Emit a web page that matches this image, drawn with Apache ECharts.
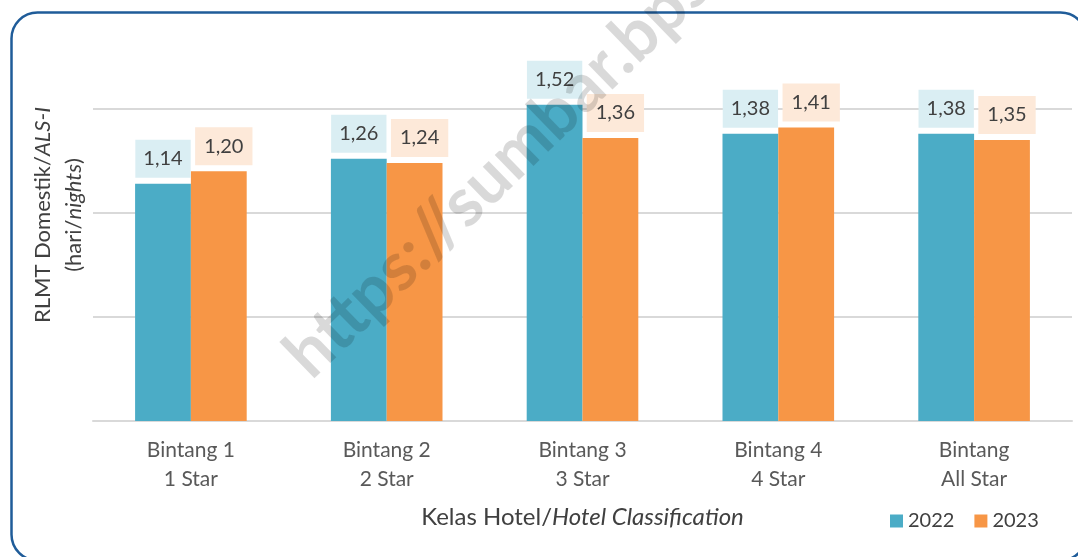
<!DOCTYPE html>
<html>
<head>
<meta charset="utf-8">
<script src="https://cdn.jsdelivr.net/npm/echarts@6/dist/echarts.min.js"></script>
<style>
  html, body { margin: 0; padding: 0; background: #fff; }
  #main { width: 1078px; height: 557px; }
</style>
</head>
<body>
<div id="main"></div>
<script>
var categories = ['Bintang 1\n1 Star', 'Bintang 2\n2 Star', 'Bintang 3\n3 Star', 'Bintang 4\n4 Star', 'Bintang\nAll Star'];
var values2022 = [1.14, 1.26, 1.52, 1.38, 1.38];
var values2023 = [1.20, 1.24, 1.36, 1.41, 1.35];

var chartDom = document.getElementById('main');
var myChart = echarts.init(chartDom);
var font = 'Lato, "Noto Sans", sans-serif';

function fmt(p) {
    return p.value.toFixed(2).replace('.', ',');
}

var option = {
    textStyle: { fontFamily: font },
    animation: false,
    grid: { left: 93, right: 6, top: 88, bottom: 136 },
    legend: {
        left: 885,
        top: 506,
        itemWidth: 13,
        itemHeight: 13,
        itemGap: 20,
        icon: 'rect',
        textStyle: { fontSize: 20, color: '#404040', fontFamily: font },
        data: ['2022', '2023']
    },
    xAxis: {
        type: 'category',
        data: categories,
        name: '{a|Kelas Hotel/}{i|Hotel Classification}',
        nameLocation: 'middle',
        nameGap: 82,
        nameTextStyle: {
            rich: {
                a: { fontSize: 24, color: '#404040', fontFamily: font, lineHeight: 28 },
                i: { fontSize: 24, color: '#404040', fontFamily: font, fontStyle: 'italic', lineHeight: 28 }
            }
        },
        axisLine: { lineStyle: { color: '#D9D9D9', width: 2 } },
        axisTick: { show: false },
        axisLabel: { fontSize: 21, color: '#595959', lineHeight: 29, margin: 15, fontFamily: font }
    },
    yAxis: {
        type: 'value',
        min: 0,
        max: 1.6,
        interval: 0.5,
        axisLabel: { show: false },
        axisLine: { show: false },
        axisTick: { show: false },
        splitLine: { showMaxLine: false, showMinLine: false, lineStyle: { color: '#D9D9D9', width: 2 } }
    },
    series: [
        {
            name: '2022',
            type: 'bar',
            data: values2022,
            barGap: '0%',
            barCategoryGap: '43%',
            itemStyle: { color: '#4BACC6' },
            label: {
                show: true,
                position: 'top',
                distance: 6,
                formatter: fmt,
                fontSize: 20,
                color: '#404040',
                fontFamily: font,
                backgroundColor: '#DAEEF3',
                padding: [7, 8, 7, 8],
                lineHeight: 24
            }
        },
        {
            name: '2023',
            type: 'bar',
            data: values2023,
            itemStyle: { color: '#F79646' },
            label: {
                show: true,
                position: 'top',
                distance: 6,
                offset: [5, 0],
                formatter: fmt,
                fontSize: 20,
                color: '#404040',
                fontFamily: font,
                backgroundColor: '#FDE9D9',
                padding: [7, 9, 7, 9],
                lineHeight: 24
            }
        }
    ],
    graphic: [
        {
            type: 'text',
            x: 58,
            y: 215,
            rotation: Math.PI / 2,
            style: {
                text: '{a|RLMT Domestik/}{i|ALS-I}\n{a|(hari/}{i|nights}{a|)}',
                align: 'center',
                verticalAlign: 'middle',
                rich: {
                    a: { fontSize: 22, fill: '#404040', fontFamily: font, lineHeight: 31 },
                    i: { fontSize: 22, fill: '#404040', fontFamily: font, fontStyle: 'italic', lineHeight: 31 }
                }
            },
            silent: true
        },
        {
            type: 'rect',
            left: 9,
            top: 10,
            shape: { width: 1075, height: 548, r: 26 },
            style: { fill: 'none', stroke: '#1F5C99', lineWidth: 2.5 },
            silent: true,
            z: 100
        },
        {
            type: 'text',
            x: 320,
            y: 390,
            rotation: 0.77,
            style: {
                text: 'https://sumbar.bps.go.id',
                fontSize: 68,
                fontWeight: 'bold',
                fontFamily: font,
                fill: 'rgba(0,0,0,0.15)',
                verticalAlign: 'bottom'
            },
            silent: true,
            z: 100
        }
    ]
};

option && myChart.setOption(option);
</script>
</body>
</html>
